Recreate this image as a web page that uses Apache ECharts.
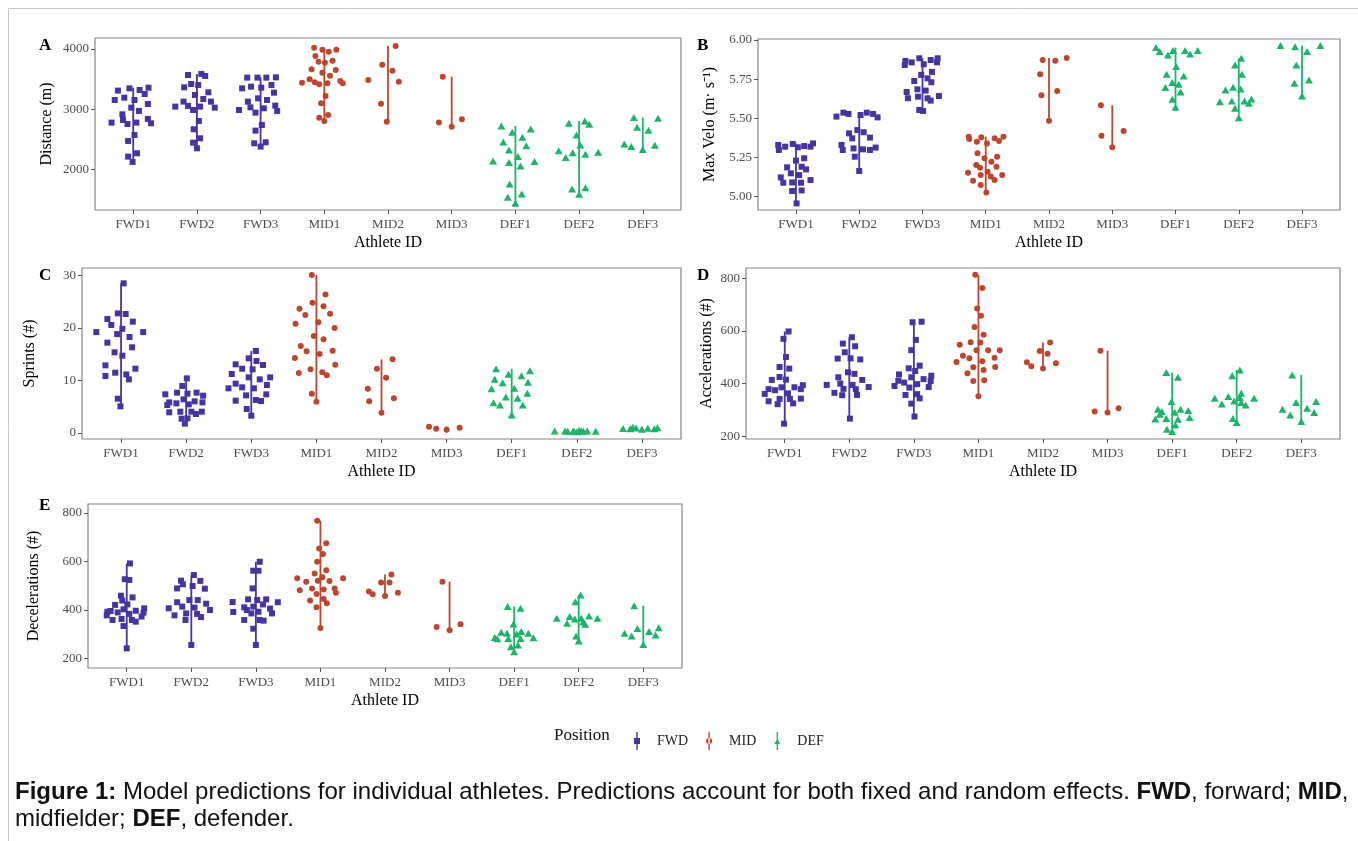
<!DOCTYPE html>
<html>
<head>
<meta charset="utf-8">
<script src="https://cdn.jsdelivr.net/npm/echarts@6/dist/echarts.min.js"></script>
<style>
  html, body { margin: 0; padding: 0; background: #fff; }
  #chart { width: 1358px; height: 841px; }
</style>
</head>
<body>
<div id="chart"></div>
<script>
// athletes and their playing position
const athletes = ['FWD1', 'FWD2', 'FWD3', 'MID1', 'MID2', 'MID3', 'DEF1', 'DEF2', 'DEF3'];
const positionOf = ['FWD', 'FWD', 'FWD', 'MID', 'MID', 'MID', 'DEF', 'DEF', 'DEF'];
const positions = ['FWD', 'MID', 'DEF'];

// each athlete: list of [jitter, predicted value]
const distance = [
  [[-0.24,3308],[-0.06,3346],[0.10,3319],[0.24,3357],[0.18,3252],[-0.29,3152],[-0.14,3191],[0.02,3152],[0.23,3086],[-0.03,3025],[0.09,2970],[-0.17,2914],[-0.16,2820],[-0.09,2753],[-0.34,2776],[0.05,2776],[0.23,2837],[0.28,2765],[0.02,2571],[-0.08,2471],[-0.08,2211],[0.06,2266],[-0.01,2122]],
  [[-0.14,3568],[0.07,3585],[0.13,3551],[-0.09,3418],[0.02,3402],[-0.20,3363],[0.18,3280],[-0.03,3235],[0.10,3169],[-0.21,3125],[0.22,3125],[-0.34,3042],[-0.14,3053],[-0.06,2986],[0.05,3042],[0.28,3025],[0.03,2803],[-0.05,2665],[0.05,2515],[-0.06,2443],[0,2349]],
  [[-0.21,3524],[-0.05,3524],[0.09,3524],[0.24,3529],[-0.29,3346],[-0.15,3374],[0.01,3357],[0.17,3402],[0.21,3274],[-0.04,3180],[-0.20,3125],[0.10,3152],[-0.16,3030],[0.05,3014],[0.23,3058],[0.26,2970],[-0.34,2986],[-0.08,2942],[0.02,2737],[-0.08,2643],[-0.10,2432],[0.08,2449],[0,2377]],
  [[-0.16,4022],[-0.03,3989],[0.07,3956],[0.19,3989],[-0.14,3884],[-0.09,3789],[0.01,3773],[0.13,3806],[-0.20,3662],[-0.03,3607],[0.18,3651],[0.09,3557],[-0.23,3496],[-0.15,3446],[-0.08,3413],[0.05,3429],[0.25,3468],[0.29,3429],[-0.35,3440],[0.02,3219],[-0.05,3097],[-0.08,2859],[0.06,2903],[0,2803]],
  [[0.12,4050],[-0.09,3740],[0.07,3640],[-0.31,3485],[0.17,3457],[-0.11,3091],[-0.02,2792]],
  [[-0.14,3540],[-0.20,2776],[0,2709],[0.16,2831]],
  [[-0.22,2720],[-0.05,2615],[0.24,2670],[0.11,2532],[-0.19,2454],[0.17,2393],[-0.10,2321],[0.04,2211],[-0.35,2139],[-0.10,2111],[0.30,2128],[0.08,2056],[-0.09,1756],[0.10,1590],[-0.12,1535],[0,1435]],
  [[-0.16,2765],[0.09,2803],[0.16,2748],[-0.04,2571],[0.02,2404],[-0.32,2310],[-0.21,2194],[-0.10,2277],[0.10,2249],[0.30,2283],[-0.11,1673],[0.10,1695],[0,1585]],
  [[-0.14,2860],[-0.09,2700],[-0.29,2420],[-0.18,2380],[0,2330],[0.09,2650],[0.19,2400],[0.24,2850]]
];

const maxVelo = [
  [[-0.28,5.330],[-0.27,5.298],[-0.17,5.319],[-0.05,5.336],[0.03,5.315],[0.13,5.323],[0.23,5.319],[0.27,5.340],[0,5.230],[0.13,5.245],[-0.14,5.187],[0.09,5.191],[0.16,5.174],[-0.08,5.149],[0.05,5.138],[-0.24,5.123],[-0.20,5.089],[-0.06,5.091],[0.08,5.089],[0.23,5.106],[-0.06,5.036],[0.09,5.040],[0.01,4.957]],
  [[-0.36,5.511],[-0.25,5.536],[-0.17,5.528],[0.02,5.521],[0.12,5.536],[0.22,5.528],[0.29,5.506],[-0.16,5.404],[-0.03,5.425],[-0.11,5.372],[0.07,5.411],[0.17,5.377],[-0.28,5.330],[-0.26,5.298],[-0.09,5.308],[0.06,5.302],[0.17,5.298],[0.26,5.313],[-0.07,5.255],[0,5.164]],
  [[-0.28,5.840],[-0.27,5.866],[-0.17,5.857],[-0.05,5.883],[0.02,5.845],[0.13,5.872],[0.23,5.857],[0.24,5.883],[0.15,5.796],[-0.02,5.777],[-0.13,5.738],[0.08,5.755],[0.14,5.730],[-0.08,5.685],[-0.25,5.668],[0.05,5.677],[-0.23,5.628],[-0.07,5.638],[0.08,5.628],[0.13,5.613],[0.26,5.642],[-0.05,5.553],[0.01,5.547]],
  [[-0.27,5.383],[-0.26,5.368],[-0.14,5.351],[-0.07,5.379],[0.02,5.340],[0.14,5.372],[0.21,5.355],[0.28,5.383],[-0.13,5.277],[-0.02,5.245],[0.18,5.255],[-0.15,5.202],[-0.09,5.185],[0.09,5.223],[0.17,5.191],[-0.28,5.153],[-0.08,5.138],[0.03,5.159],[0.08,5.128],[0.14,5.106],[0.26,5.138],[-0.20,5.102],[-0.08,5.074],[0.01,5.027]],
  [[-0.10,5.872],[0.10,5.868],[0.28,5.885],[-0.14,5.781],[-0.12,5.647],[0.13,5.674],[0,5.485]],
  [[-0.18,5.583],[-0.17,5.389],[0,5.315],[0.18,5.419]],
  [[-0.31,5.951],[-0.25,5.926],[-0.12,5.904],[-0.04,5.932],[0.15,5.932],[0.23,5.911],[0.35,5.932],[0.01,5.830],[-0.14,5.781],[0.13,5.770],[-0.05,5.728],[0.05,5.717],[-0.16,5.696],[0.08,5.668],[-0.05,5.621],[0,5.570]],
  [[0.04,5.883],[-0.06,5.840],[0.05,5.781],[-0.21,5.681],[-0.09,5.698],[0.03,5.687],[-0.30,5.606],[-0.11,5.611],[0.09,5.611],[0.16,5.596],[0.20,5.623],[-0.06,5.564],[0,5.504]],
  [[-0.34,5.964],[-0.11,5.957],[0.29,5.964],[0.08,5.926],[-0.09,5.840],[-0.12,5.723],[0.11,5.745],[0,5.643]]
];

const sprints = [
  [[0.04,28.51],[-0.05,22.79],[0.07,22.67],[-0.21,21.71],[-0.15,20.57],[0.18,21.21],[-0.38,19.22],[0.02,19.85],[-0.06,18.84],[0.13,18.29],[0.34,19.22],[-0.21,17.21],[0.17,16.32],[-0.10,15.37],[0.02,14.73],[-0.24,12.89],[0.22,12.25],[-0.24,10.86],[-0.09,11.49],[0.08,11.17],[0.12,10.22],[-0.05,6.54],[-0.01,5.08]],
  [[0.01,10.41],[-0.06,8.95],[-0.32,7.37],[-0.14,7.68],[0.02,7.49],[0.16,7.68],[0.26,7.11],[-0.26,5.84],[-0.15,5.65],[-0.04,6.41],[0.13,6.03],[0.25,5.84],[-0.29,5.33],[0.04,5.46],[-0.26,3.94],[-0.09,4.06],[0.08,4.06],[0.15,3.62],[0.24,4.06],[-0.07,2.73],[0.02,2.79],[-0.02,1.78]],
  [[0.07,15.62],[-0.04,14.22],[0.08,13.71],[-0.24,13.08],[0.18,12.95],[-0.14,12.25],[0.02,12.13],[-0.30,11.24],[0.29,10.60],[-0.04,10.60],[0.13,10.22],[-0.24,9.40],[-0.14,8.70],[-0.35,8.51],[0.04,8.51],[0.24,9.14],[-0.08,7.17],[0.23,7.37],[-0.24,6.16],[0.07,6.29],[0.15,6.10],[-0.07,4.57],[0,3.30]],
  [[-0.07,30.10],[0.14,26.40],[-0.06,24.83],[0.11,24.13],[-0.26,23.68],[-0.17,22.48],[0.21,22.73],[-0.32,20.83],[0.03,21.08],[0.28,20.00],[-0.04,18.48],[0.11,17.84],[-0.24,16.57],[-0.15,15.56],[0.05,15.05],[0.25,15.68],[-0.33,14.29],[0.29,13.02],[-0.09,12.13],[-0.27,11.43],[0.09,11.56],[0.16,10.98],[-0.07,7.49],[0,5.97]],
  [[0.17,14.03],[-0.07,12.25],[0.07,10.54],[-0.21,8.44],[-0.19,6.03],[0.19,6.60],[0,3.87]],
  [[-0.27,1.21],[-0.16,0.83],[0,0.63],[0.20,1.02]],
  [[-0.24,12.25],[-0.05,11.17],[0.15,10.92],[0.28,11.87],[-0.26,10.22],[-0.14,9.59],[0.25,9.65],[-0.31,8.44],[0.04,8.51],[0.24,7.56],[-0.09,6.86],[0.09,6.60],[-0.28,5.78],[-0.18,5.33],[0.17,5.33],[0,3.43]],
  [[0.03,0.40],[-0.05,0.35],[-0.34,0.38],[-0.14,0.33],[-0.06,0.30],[0.04,0.42],[0.16,0.36],[0.29,0.34],[-0.18,0.37],[0.07,0.39],[0.10,0.32],[-0.04,0.28],[0,0.25]],
  [[-0.14,1.10],[-0.09,0.95],[-0.29,0.85],[-0.18,0.80],[0,0.70],[0.09,0.90],[0.19,0.80],[0.24,1.00]]
];

const accelerations = [
  [[0.06,598],[-0.02,570],[0.02,501],[-0.08,463],[0.07,457],[-0.20,414],[-0.08,425],[0.02,415],[-0.31,361],[-0.25,379],[-0.15,375],[-0.05,386],[0.05,363],[0.15,386],[0.25,379],[0.28,394],[-0.25,333],[-0.08,342],[0.08,342],[-0.11,322],[0.13,325],[0.25,343],[-0.01,248]],
  [[0.04,576],[-0.10,552],[0.09,542],[-0.07,519],[-0.18,495],[0.02,496],[0.17,492],[-0.02,443],[0.08,437],[-0.17,424],[0.20,414],[-0.14,400],[0.05,395],[-0.35,395],[-0.09,380],[0.10,379],[0.30,387],[-0.23,365],[-0.11,356],[0.12,357],[0.01,267]],
  [[-0.02,633],[0.12,635],[0.03,566],[-0.04,527],[-0.08,458],[0.09,468],[0.02,448],[-0.23,435],[-0.04,424],[0.15,417],[0.27,430],[0.26,410],[-0.24,411],[-0.15,404],[0.05,398],[-0.30,391],[-0.07,385],[0.23,387],[-0.13,357],[0.05,360],[0.09,344],[-0.04,324],[0.01,275]],
  [[-0.05,813],[0.06,763],[-0.02,685],[0.04,658],[-0.06,615],[0.08,586],[-0.29,548],[-0.12,557],[0.03,556],[-0.24,506],[-0.14,496],[-0.03,527],[0.15,527],[0.33,527],[-0.34,482],[0.06,485],[0.25,498],[-0.08,462],[0.26,463],[-0.17,439],[0.08,452],[-0.08,410],[0.09,413],[0,352]],
  [[0.11,556],[-0.05,524],[0.07,513],[-0.25,481],[-0.18,466],[0.20,477],[0,457]],
  [[-0.11,525],[-0.20,294],[0,290],[0.17,306]],
  [[-0.09,442],[0.09,424],[-0.01,332],[-0.22,303],[-0.16,294],[-0.19,284],[0.04,291],[0.13,303],[0.25,298],[-0.26,266],[-0.09,268],[0.09,265],[0.27,271],[0.05,243],[-0.08,227],[0,218]],
  [[0.05,452],[-0.07,430],[0.07,363],[-0.34,344],[-0.13,351],[-0.04,334],[-0.23,323],[0.05,347],[0.07,328],[0.14,319],[0.27,344],[-0.06,268],[0,252]],
  [[-0.14,433],[-0.08,328],[-0.29,303],[-0.17,281],[0,256],[0.09,306],[0.20,290],[0.23,332]]
];

const decelerations = [
  [[0.05,592],[-0.03,527],[0.04,524],[-0.09,459],[0.09,452],[-0.07,439],[-0.18,421],[0.01,423],[-0.30,393],[-0.25,396],[-0.14,390],[-0.05,403],[0.14,397],[0.27,407],[0.26,389],[-0.31,378],[-0.22,359],[-0.08,363],[0.04,384],[0.08,359],[0.14,352],[0.23,373],[-0.05,334],[0,242]],
  [[0.04,544],[-0.16,521],[0.14,520],[-0.13,506],[0.02,499],[-0.22,489],[0.21,488],[-0.03,441],[0.10,441],[-0.22,432],[0.23,426],[-0.14,414],[0.05,410],[-0.35,407],[0.29,400],[-0.08,386],[-0.26,378],[0.09,384],[0.15,371],[-0.09,359],[0,256]],
  [[0.06,599],[-0.04,562],[0.04,562],[-0.05,489],[-0.12,444],[0.02,441],[0.16,444],[-0.36,433],[0.11,423],[0.34,432],[-0.18,411],[-0.04,414],[0.22,406],[-0.35,392],[-0.14,400],[-0.07,386],[0.04,393],[0.25,386],[-0.18,359],[0.06,359],[0.12,356],[-0.04,323],[0,256]],
  [[-0.05,768],[0.09,675],[-0.02,654],[0.04,631],[-0.05,599],[0.09,564],[-0.09,551],[0.03,535],[-0.04,521],[-0.36,531],[-0.22,517],[0.35,531],[0.14,520],[-0.13,489],[0.05,485],[0.22,489],[-0.32,481],[0.24,471],[-0.06,466],[-0.16,439],[0.05,445],[0.10,428],[-0.06,411],[0,326]],
  [[0.10,546],[-0.06,513],[0.07,513],[-0.25,476],[-0.19,465],[0.20,471],[0,458]],
  [[-0.11,517],[-0.20,330],[0,317],[0.17,341]],
  [[-0.10,414],[0.10,407],[-0.01,342],[-0.30,287],[-0.26,282],[-0.20,308],[-0.11,304],[-0.09,283],[0.04,301],[0.11,311],[0.22,304],[0.30,286],[0.10,283],[-0.05,249],[0.06,256],[0,228]],
  [[0.03,462],[-0.05,434],[-0.34,366],[-0.14,373],[-0.06,363],[0.04,366],[0.16,375],[0.29,366],[-0.18,345],[0.07,352],[0.10,341],[-0.04,293],[0,272]],
  [[-0.14,418],[-0.09,324],[-0.29,304],[-0.18,293],[0,258],[0.09,311],[0.19,297],[0.24,327]]
];

const distTicks = [2000, 3000, 4000];
const veloTicks = [5.00, 5.25, 5.50, 5.75, 6.00];
const sprintTicks = [0, 10, 20, 30];
const countTicks = [200, 400, 600, 800];

const colors = { FWD: '#4535a0', MID: '#bd4630', DEF: '#1eb46c' };
const symbols = { FWD: 'rect', MID: 'circle', DEF: 'triangle' };
const sizes = { FWD: 6, MID: 6, DEF: [8, 7] };
const serif = '"Liberation Serif", "Times New Roman", serif';
const sans = '"Liberation Sans", Arial, sans-serif';

const panels = [
  { letter: 'A', values: distance, title: 'Distance (m)', grid: { left: 95, top: 38, width: 586, height: 172 }, min: 1323, max: 4183, ticks: distTicks, digits: 0, nameGap: 40 },
  { letter: 'B', values: maxVelo, title: 'Max Velo (m\u00b7 s\u207b\u00b9)', grid: { left: 758, top: 39, width: 582, height: 171 }, min: 4.915, max: 6.006, ticks: veloTicks, digits: 2, nameGap: 40 },
  { letter: 'C', values: sprints, title: 'Sprints (#)', grid: { left: 82, top: 268, width: 599, height: 171 }, min: -1.14, max: 31.43, ticks: sprintTicks, digits: 0, nameGap: 44 },
  { letter: 'D', values: accelerations, title: 'Accelerations (#)', grid: { left: 746, top: 268, width: 594, height: 171 }, min: 189.7, max: 839, ticks: countTicks, digits: 0, nameGap: 31 },
  { letter: 'E', values: decelerations, title: 'Decelerations (#)', grid: { left: 88, top: 504, width: 594, height: 164 }, min: 161, max: 837, ticks: countTicks, digits: 0, nameGap: 46 }
];
const letterPos = [[39, 37], [697, 37], [39, 267], [697, 267], [39, 497]];

const xTicks = athletes.map((a, i) => i + 1);
const grids = [], xAxes = [], yAxes = [], series = [];

panels.forEach((p, gi) => {
  grids.push(Object.assign({ show: true, borderColor: '#858585', borderWidth: 1.2, backgroundColor: 'transparent' }, p.grid));
  xAxes.push({
    type: 'value', gridIndex: gi, min: 0.4, max: 9.6,
    name: 'Athlete ID', nameLocation: 'middle', nameGap: 25,
    nameTextStyle: { fontFamily: serif, fontSize: 16, color: '#000' },
    axisLine: { show: false, onZero: false },
    splitLine: { show: false },
    axisTick: { show: true, length: 4, customValues: xTicks, lineStyle: { color: '#555', width: 1 } },
    axisLabel: { customValues: xTicks, formatter: v => athletes[Math.round(v) - 1], margin: 8, fontFamily: serif, fontSize: 13, color: '#4d4d4d' }
  });
  yAxes.push({
    type: 'value', gridIndex: gi, min: p.min, max: p.max,
    name: p.title, nameLocation: 'middle', nameRotate: 90, nameGap: p.nameGap,
    nameTextStyle: { fontFamily: serif, fontSize: 16, color: '#000' },
    axisLine: { show: false, onZero: false },
    splitLine: { show: false },
    axisTick: { show: true, length: 4, customValues: p.ticks, lineStyle: { color: '#555', width: 1 } },
    axisLabel: { customValues: p.ticks, formatter: v => v.toFixed(p.digits), margin: 6, fontFamily: serif, fontSize: 13, color: '#4d4d4d' }
  });

  positions.forEach(pos => {
    const pts = [], ranges = [];
    athletes.forEach((a, ai) => {
      if (positionOf[ai] !== pos) return;
      const vals = p.values[ai];
      vals.forEach(d => pts.push([ai + 1 + d[0], d[1]]));
      const ys = vals.map(d => d[1]);
      ranges.push([ai + 1, Math.min(...ys), Math.max(...ys)]);
    });
    series.push({
      type: 'scatter', name: pos, xAxisIndex: gi, yAxisIndex: gi, data: pts,
      symbol: symbols[pos], symbolSize: sizes[pos], silent: true, z: 2,
      itemStyle: { color: colors[pos], opacity: 1 }
    });
    series.push({
      type: 'custom', name: pos + ' range', xAxisIndex: gi, yAxisIndex: gi, data: ranges, silent: true, z: 3,
      renderItem: (params, api) => {
        const a = api.coord([api.value(0), api.value(1)]);
        const b = api.coord([api.value(0), api.value(2)]);
        return { type: 'line', shape: { x1: a[0], y1: a[1], x2: b[0], y2: b[1] }, style: { stroke: colors[pos], lineWidth: 1.8 } };
      }
    });
  });
});

const graphics = panels.map((p, i) => ({
  type: 'text', left: letterPos[i][0], top: letterPos[i][1],
  style: { text: p.letter, font: 'bold 17px ' + serif, fill: '#000' }
}));
graphics.push({ type: 'text', left: 554, top: 727, style: { text: 'Position', font: '17px ' + serif, fill: '#111' } });
graphics.push({ type: 'line', shape: { x1: 8.5, y1: 8.5, x2: 1358, y2: 8.5 }, style: { stroke: '#c8c8c8', lineWidth: 1 } });
graphics.push({ type: 'line', shape: { x1: 8.5, y1: 8.5, x2: 8.5, y2: 841 }, style: { stroke: '#c8c8c8', lineWidth: 1 } });
graphics.push({
  type: 'text', left: 15, top: 779,
  style: {
    text: '{b|Figure 1:} Model predictions for individual athletes. Predictions account for both fixed and random effects. {b|FWD}, forward; {b|MID},\nmidfielder; {b|DEF}, defender.',
    font: '24px ' + sans, fill: '#111', lineHeight: 27,
    rich: { b: { fontWeight: 'bold', fontSize: 24, fontFamily: sans, fill: '#111', lineHeight: 27 } }
  }
});

const chart = echarts.init(document.getElementById('chart'));
chart.setOption({
  animation: false,
  backgroundColor: '#fff',
  grid: grids,
  xAxis: xAxes,
  yAxis: yAxes,
  legend: {
    left: 629, top: 727, itemWidth: 6, itemHeight: 18, itemGap: 18,
    selectedMode: false,
    textStyle: { fontFamily: serif, fontSize: 14, color: '#222', padding: [0, 0, 0, 12] },
    data: [
      { name: 'FWD', icon: 'path://M2.3,0h1.4v18h-1.4z M0,6h6v6h-6z' },
      { name: 'MID', icon: 'path://M2.3,0h1.4v18h-1.4z M0,9a3,3 0 1,0 6,0a3,3 0 1,0 -6,0z' },
      { name: 'DEF', icon: 'path://M2.3,0h1.4v18h-1.4z M0,12L3,6.5L6,12z' }
    ]
  },
  graphic: graphics,
  series: series
});
</script>
</body>
</html>
